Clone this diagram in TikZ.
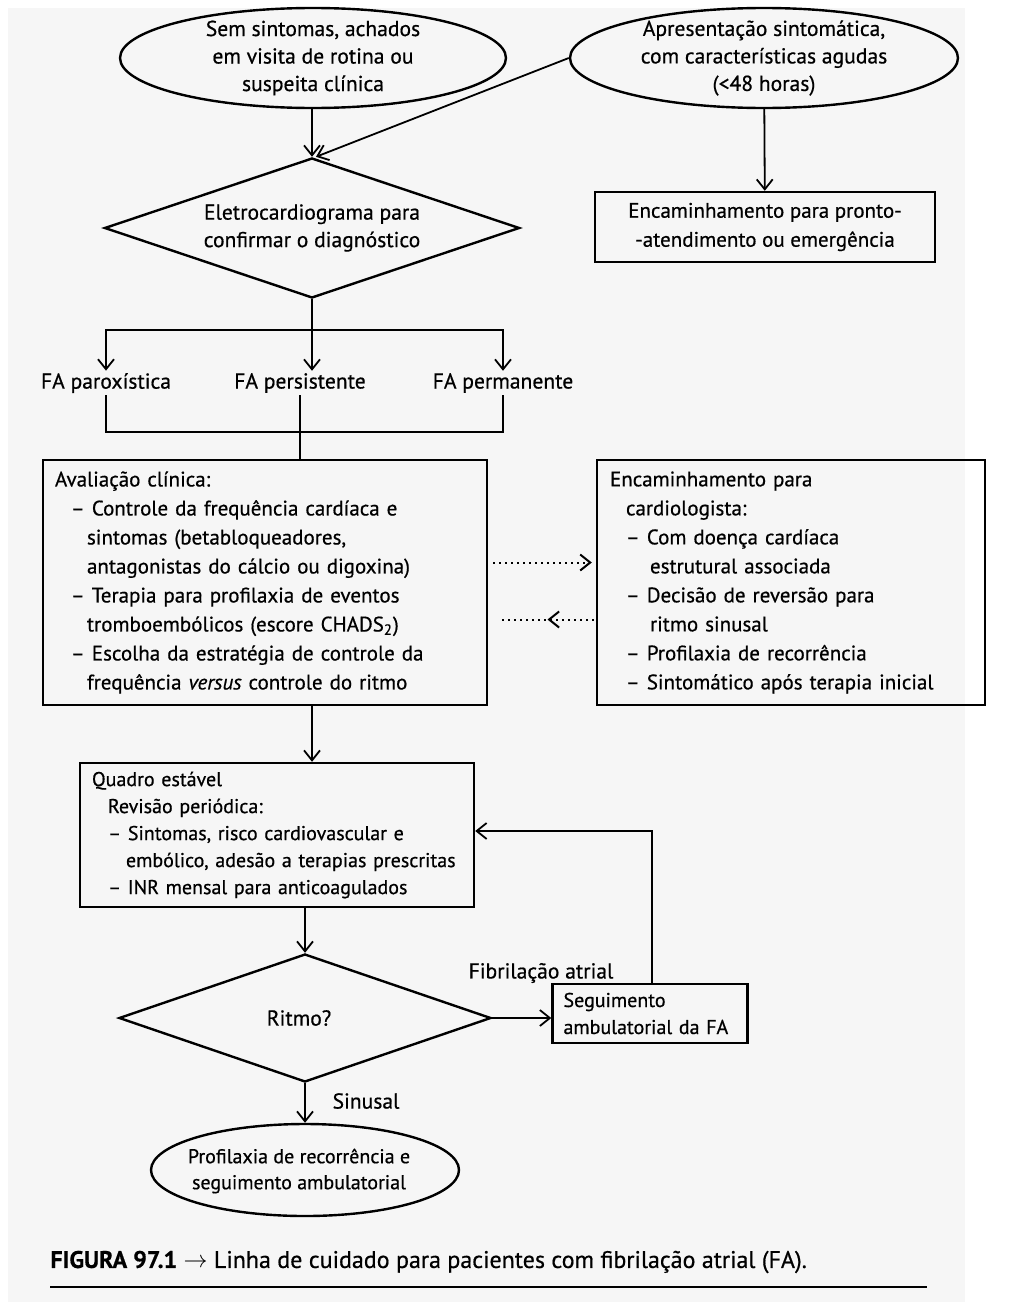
\documentclass[tikz,border=0pt]{standalone}
\usepackage{fontspec}
\setmainfont[FakeBold=0.6]{PT Sans}
\usetikzlibrary{shapes,arrows,arrows.meta,positioning,calc,decorations.markings}

\begin{document}
\begin{tikzpicture}[x=0.5pt,y=-0.5pt]
  \tikzstyle{oval}=[ellipse, draw, line width=1.2pt, inner sep=0pt]
  \tikzstyle{losango}=[diamond, draw, line width=1.2pt, inner sep=0pt]
  \tikzstyle{caixa}=[rectangle, draw, line width=1.2pt, font=\fontsize{10.5}{14.5}\selectfont, align=left, inner ysep=0pt]
  \tikzstyle{txt}=[font=\fontsize{10.8}{13.75}\selectfont, align=center, inner sep=1pt]
  \tikzstyle{seta}=[-{Straight Barb[length=5pt,width=8pt]}, line width=0.9pt]
  \tikzstyle{linha}=[line width=0.9pt]
  \tikzstyle{pontilhada}=[dotted, line width=1pt]

  % Fundo da pagina
  \fill[white] (0,0) rectangle (1012,1306);
  \fill[gray!7] (8,8) rectangle (965,1302);

  % Entradas
  \node[oval, minimum width=193pt, minimum height=50pt] (sem) at (313,58) {};
  \node[txt] (semt) at (sem) {Sem sintomas, achados\\em visita de rotina ou\\suspeita clínica};
  \node[oval, minimum width=194pt, minimum height=50pt] (apr) at (764,58) {};
  \node[txt] (aprt) at (apr) {Apresentação sintomática,\\com características agudas\\(<48 horas)};

  % Diagnostico
  \node[losango, minimum width=207.5pt, minimum height=70pt] (ecg) at (312,228) {};
  \node[txt] (ecgt) at (ecg) {Eletrocardiograma para\\confirmar o diagnóstico};
  \node[caixa, align=center, minimum width=170pt, minimum height=35pt] (pronto) at (765,227) {Encaminhamento para pronto-\\-atendimento ou emergência};

  \draw[seta] (sem.south -| ecg) -- (ecg.north);
  \draw[seta] (apr.west) -- ([xshift=2pt]ecg.north);
  \draw[seta] (apr) -- (pronto);

  % Tipos de FA
  \node[txt] (parox) at (106,383) {FA paroxística};
  \node[txt] (persist) at (300,383) {FA persistente};
  \node[txt] (perman) at (503,383) {FA permanente};
  \coordinate (r1) at (312,330);
  \coordinate (r2) at (300,432);
  \draw[linha] (ecg.south) -- (r1);
  \draw[seta] (r1) -| (parox);
  \draw[seta] (r1) -| (perman);
  \draw[seta] (r1) -- (r1 |- persist.north);
  \draw[linha] (parox) |- (r2);
  \draw[linha] (perman) |- (r2);

  % Avaliacao e cardiologista
  \node[caixa, text width=210pt, inner xsep=6pt, minimum height=122.5pt] (avalia) at (265,582.5) {%
    Avaliação clínica:\\
    \hspace*{8pt}– Controle da frequência cardíaca e\\
    \hspace*{16pt}sintomas (betabloqueadores,\\
    \hspace*{16pt}antagonistas do cálcio ou digoxina)\\
    \hspace*{8pt}– Terapia para profilaxia de eventos\\
    \hspace*{16pt}tromboembólicos (escore CHADS\textsubscript{2})\\
    \hspace*{8pt}– Escolha da estratégia de controle da\\
    \hspace*{16pt}frequência \textit{versus} controle do ritmo};
  \node[caixa, text width=181pt, inner xsep=6.5pt, minimum height=122.5pt] (cardio) at (791,582.5) {%
    Encaminhamento para\\
    \hspace*{8pt}cardiologista:\\
    \hspace*{8pt}– Com doença cardíaca\\
    \hspace*{20pt}estrutural associada\\
    \hspace*{8pt}– Decisão de reversão para\\
    \hspace*{20pt}ritmo sinusal\\
    \hspace*{8pt}– Profilaxia de recorrência\\
    \hspace*{8pt}– Sintomático após terapia inicial};
  \draw[linha] (persist.south) -- (persist.south |- avalia.north);
  \draw[pontilhada, -{Straight Barb[length=5pt,width=8pt]}] ([shift={(5,-20)}]avalia.east) -- ([shift={(-4,-20)}]cardio.west);
  \draw[pontilhada, postaction={decorate, decoration={markings, mark=at position 0.5 with {\arrow{Straight Barb[length=5pt,width=8pt]}}}}] ([shift={(-2,37)}]cardio.west) -- ([shift={(13,37)}]avalia.east);

  % Seguimento
  \node[caixa, text width=185pt, inner xsep=6pt, minimum height=72pt, font=\fontsize{10}{13.5}\selectfont] (quadro) at (277,835) {%
    Quadro estável\\
    \hspace*{8pt}Revisão periódica:\\
    \hspace*{8pt}– Sintomas, risco cardiovascular e\\
    \hspace*{17pt}\mbox{embólico, adesão a terapias prescritas}\\
    \hspace*{8pt}– INR mensal para anticoagulados};
  \draw[seta] (avalia.south -| ecg) -- (quadro.north -| ecg);

  \node[losango, minimum width=186pt, minimum height=64pt] (ritmo) at (305,1018) {};
  \node[txt] (ritmot) at (299,1018) {Ritmo?};
  \node[caixa, text width=86.5pt, inner xsep=5.5pt, minimum height=29.5pt, font=\fontsize{10}{13.5}\selectfont] (seguim) at (650,1013.5) {Seguimento\\ambulatorial da FA};
  \node[txt] (fibr) at (541,973) {Fibrilação atrial};
  \draw[seta] (quadro.south -| ritmo) -- (ritmo.north);
  \draw[seta] (ritmo.east) -- (ritmo.east -| seguim.west);
  \draw[seta] ([xshift=1pt]seguim.north) |- ([yshift=2pt]quadro.east);

  % Desfecho
  \node[oval, minimum width=154pt, minimum height=46pt] (fim) at (305,1170) {};
  \node[txt, font=\fontsize{10}{13}\selectfont] (fimt) at (299,1171) {Profilaxia de recorrência e\\seguimento ambulatorial};
  \draw[seta] (ritmo.south) -- (fim.north);
  \node[txt] (sinusal) at (366,1101) {Sinusal};

  % Legenda
  \node[anchor=west, font=\fontsize{12}{14}\selectfont, inner sep=0pt] (legenda) at (50,1262) {\textbf{FIGURA 97.1} $\rightarrow$ Linha de cuidado para pacientes com fibrilação atrial (FA).};
  \draw[line width=1.2pt] (50,1287) -- (927,1287);
\end{tikzpicture}
\end{document}
